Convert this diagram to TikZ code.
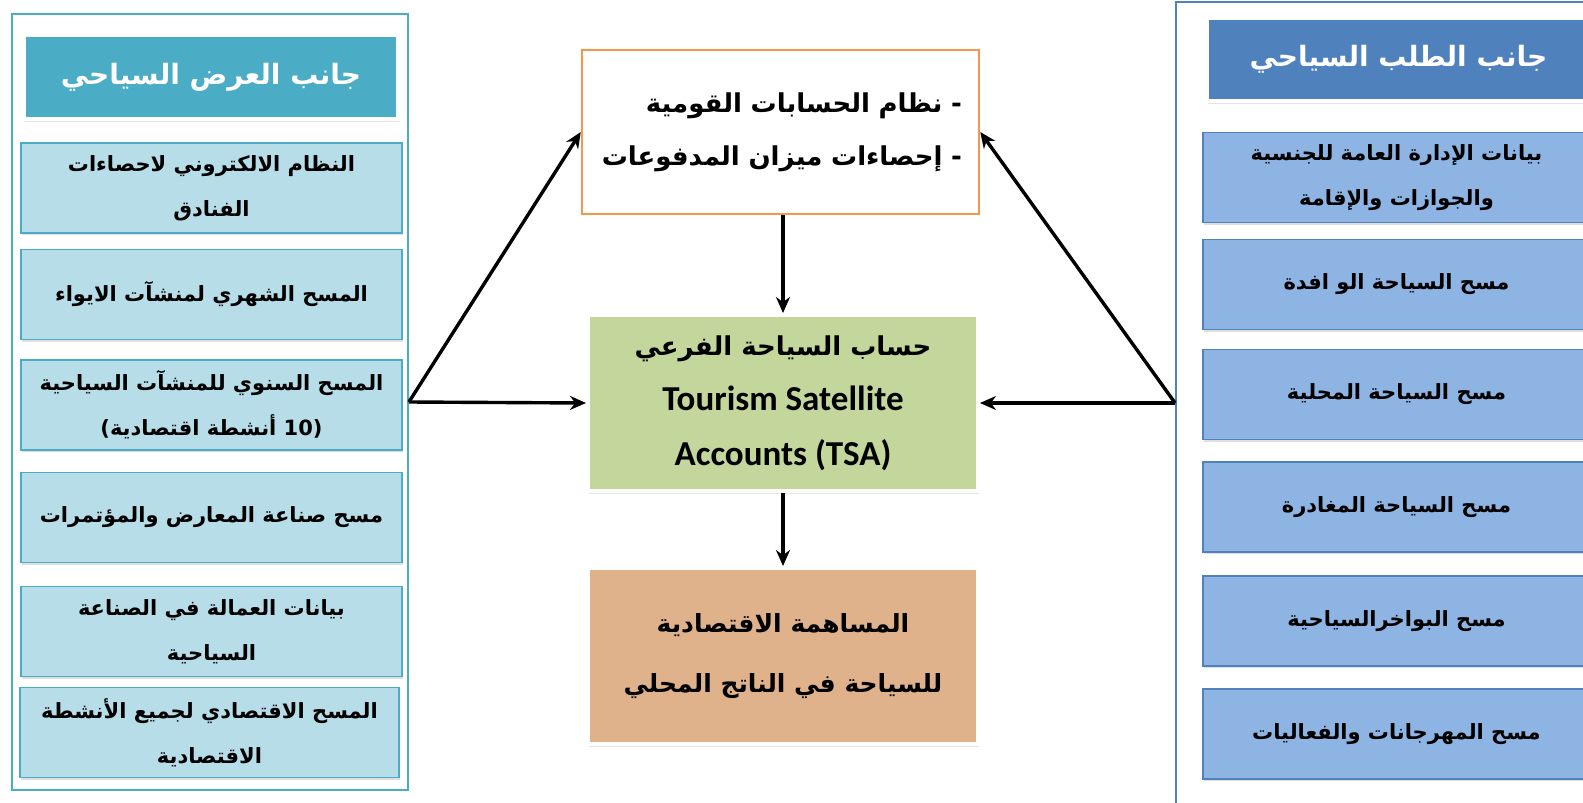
\documentclass[tikz,border=0pt]{standalone}
\usepackage{fontspec}
\setmainfont{Carlito}
\newfontfamily\arabicfont[Script=Arabic]{DejaVu Sans}
\TeXXeTstate=1
\usetikzlibrary{positioning,arrows,arrows.meta,shadows}
\definecolor{supplyhead}{HTML}{4BACC6}
\definecolor{supplyfill}{HTML}{B7DDE8}
\definecolor{demandhead}{HTML}{4F81BD}
\definecolor{demandfill}{HTML}{8EB4E3}
\definecolor{natorange}{HTML}{F79646}
\definecolor{tsagreen}{HTML}{C3D69B}
\definecolor{gdptan}{HTML}{E0B28C}
\newcommand{\artext}[1]{\beginR #1\endR}

\begin{document}
\begin{tikzpicture}[x=1pt, y=-1pt,
sidebox/.style={rectangle, line width=1.8pt},
headbox/.style={rectangle, draw=white, line width=4pt, minimum height=84, text=white,
    font=\arabicfont\bfseries\fontsize{28}{34}\selectfont,
    drop shadow={opacity=0.2, shadow xshift=1pt, shadow yshift=-3pt}},
itembox/.style={rectangle, line width=1.6pt, minimum height=90, align=center,
    font=\arabicfont\bfseries\fontsize{21}{45}\selectfont,
    drop shadow={opacity=0.25, shadow xshift=0.5pt, shadow yshift=-2pt}},
supplyitem/.style={itembox, draw=supplyhead, fill=supplyfill, minimum width=381},
demanditem/.style={itembox, draw=demandhead, fill=demandfill, minimum width=387},
centerbox/.style={rectangle, draw=white, line width=4pt, minimum width=390, minimum height=176,
    align=center, drop shadow={opacity=0.2, shadow xshift=1pt, shadow yshift=-3pt}},
flow/.style={-{Stealth[length=16pt, width=14pt]}, line width=3.4pt, draw=black}
]
    \clip (0,0) rectangle (1583,803);
    \fill[white] (0,0) rectangle (1583,803);

    %Supply side
    \node[sidebox, draw=supplyhead, minimum width=396, minimum height=776]
        (supply) at (210,402) {};
    \node[headbox, fill=supplyhead, minimum width=374]
        (supplyhead) at (211,77) {\artext{جانب العرض السياحي}};
    \node[supplyitem] (s1) at (211.5,188)
        {\artext{النظام الالكتروني لاحصاءات}\\\artext{الفنادق}};
    \node[supplyitem] (s2) at (211.5,294.5)
        {\artext{المسح الشهري لمنشآت الايواء}};
    \node[supplyitem] (s3) at (211.5,405)
        {\artext{المسح السنوي للمنشآت السياحية}\\\artext{(\beginL 10\endL{} أنشطة اقتصادية)}};
    \node[supplyitem] (s4) at (211.5,517.5)
        {\artext{مسح صناعة المعارض والمؤتمرات}};
    \node[supplyitem] (s5) at (211.5,631.5)
        {\artext{بيانات العمالة في الصناعة}\\\artext{السياحية}};
    \node[supplyitem, minimum width=379] (s6) at (209.5,732.5)
        {\artext{المسح الاقتصادي لجميع الأنشطة}\\\artext{الاقتصادية}};

    %Demand side
    \node[sidebox, draw=demandhead, minimum width=424, minimum height=802]
        (demand) at (1388,403) {};
    \node[headbox, fill=demandhead, minimum width=383, minimum height=83]
        (demandhead) at (1398.5,59.5) {\artext{جانب الطلب السياحي}};
    \node[demanditem] (d1) at (1396.5,177.5)
        {\artext{بيانات الإدارة العامة للجنسية}\\\artext{والجوازات والإقامة}};
    \node[demanditem] (d2) at (1396.5,284.5)
        {\artext{مسح السياحة الو افدة}};
    \node[demanditem] (d3) at (1396.5,394.5)
        {\artext{مسح السياحة المحلية}};
    \node[demanditem] (d4) at (1396.5,507)
        {\artext{مسح السياحة المغادرة}};
    \node[demanditem] (d5) at (1396.5,621)
        {\artext{مسح البواخرالسياحية}};
    \node[demanditem] (d6) at (1396.5,734)
        {\artext{مسح المهرجانات والفعاليات}};

    %Center
    \node[rectangle, draw=natorange, line width=2.5pt, fill=white, minimum width=397, minimum height=164,
          text width=363, align=right, font=\arabicfont\bfseries\fontsize{26}{53}\selectfont]
        (nat) at (780.5,132)
        {\artext{- نظام الحسابات القومية}\\\artext{- إحصاءات ميزان المدفوعات}};
    \node[centerbox, fill=tsagreen, font=\bfseries\fontsize{35}{55}\selectfont]
        (tsa) at (783,403)
        {{\arabicfont\fontsize{26}{55}\selectfont\artext{حساب السياحة الفرعي}}\\Tourism Satellite\\Accounts (TSA)};
    \node[centerbox, fill=gdptan, font=\arabicfont\bfseries\fontsize{25}{60}\selectfont]
        (gdp) at (783,656)
        {\artext{المساهمة الاقتصادية}\\\artext{للسياحة في الناتج المحلي}};

    %Lines
    \draw[flow] (supply.east) -- (nat.west);
    \draw[flow] (supply.east) -- (tsa.west);
    \draw[flow] (demand.west) -- (nat.east);
    \draw[flow] (demand.west) -- (tsa.east);
    \draw[flow] (tsa.north |- nat.south) -- (tsa.north);
    \draw[flow] (tsa.south) -- (gdp.north);
\end{tikzpicture}
\end{document}
